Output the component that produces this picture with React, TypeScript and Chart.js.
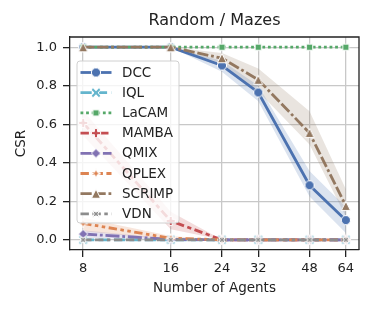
import React, { useEffect, useRef } from "react";
import { Chart, registerables } from "chart.js";

Chart.register(...registerables);

const agents = [8, 16, 24, 32, 48, 64];
const xTicks = [8, 16, 24, 32, 48, 64];
const yTicks = [0, 0.2, 0.4, 0.6, 0.8, 1.0];

const dcc = [1, 1, 0.905, 0.765, 0.283, 0.102];
const dccLow = [1, 1, 0.873, 0.72, 0.225, 0.035];
const dccHigh = [1, 1, 0.93, 0.8, 0.357, 0.17];
const iql = [0, 0, 0, 0, 0, 0];
const lacam = [1, 1, 1, 1, 1, 1];
const mamba = [0.607, 0.098, 0, 0, 0, 0];
const mambaLow = [0.54, 0.055, 0, 0, 0, 0];
const mambaHigh = [0.67, 0.145, 0, 0, 0, 0];
const qmix = [0.03, 0.002, 0, 0, 0, 0];
const qmixLow = [0.01, 0, 0, 0, 0, 0];
const qmixHigh = [0.05, 0.006, 0, 0, 0, 0];
const qplex = [0.085, 0.008, 0, 0, 0, 0];
const qplexLow = [0.045, 0, 0, 0, 0, 0];
const qplexHigh = [0.115, 0.02, 0, 0, 0, 0];
const scrimp = [1, 1, 0.943, 0.831, 0.555, 0.176];
const scrimpLow = [1, 1, 0.915, 0.77, 0.495, 0.12];
const scrimpHigh = [1, 1, 0.97, 0.89, 0.667, 0.262];
const vdn = [0, 0, 0, 0, 0, 0];

const seriesNames = ["DCC", "IQL", "LaCAM", "MAMBA", "QMIX", "QPLEX", "SCRIMP", "VDN"];
const seriesValues = [dcc, iql, lacam, mamba, qmix, qplex, scrimp, vdn];
const colors = ["#4c72b0", "#64b5cd", "#55a868", "#c44e52", "#8172b3", "#dd8452", "#937860", "#8c8c8c"];
const LW = 2.8;
const dashes = [
  [],
  [4, 1.5],
  [1, 1],
  [3, 1.25, 1.5, 1.25],
  [5, 1, 1, 1],
  [3, 1.25, 1.25, 1.25, 1.25, 1.25],
  [4, 1, 4, 1, 1, 1],
  [3, 1.25, 3, 1.25, 1.25, 1.25],
].map((d) => d.map((v) => v * LW));
const shapes = ["circle", "xfill", "square", "plus", "diamond", "star", "triangle", "starx"];
const sizes = [4.6, 4.6, 3.2, 4.6, 4.6, 4.8, 4.6, 4.8];

const bands: { i: number; low: number[]; high: number[] }[] = [
  { i: 0, low: dccLow, high: dccHigh },
  { i: 3, low: mambaLow, high: mambaHigh },
  { i: 4, low: qmixLow, high: qmixHigh },
  { i: 5, low: qplexLow, high: qplexHigh },
  { i: 6, low: scrimpLow, high: scrimpHigh },
];

function hexA(hex: string, a: number) {
  const n = parseInt(hex.slice(1), 16);
  return `rgba(${(n >> 16) & 255},${(n >> 8) & 255},${n & 255},${a})`;
}

function makeMarker(shape: string, color: string, r: number): HTMLCanvasElement {
  const s = Math.ceil(2 * r + 4);
  const c = document.createElement("canvas");
  c.width = s;
  c.height = s;
  const ctx = c.getContext("2d")!;
  ctx.translate(s / 2, s / 2);
  ctx.beginPath();
  const poly = (pts: number[][]) => {
    pts.forEach((p, k) => (k === 0 ? ctx.moveTo(p[0], p[1]) : ctx.lineTo(p[0], p[1])));
    ctx.closePath();
  };
  const plusPts = (a: number, t: number) => [
    [-t, -a], [t, -a], [t, -t], [a, -t], [a, t], [t, t], [t, a], [-t, a], [-t, t], [-a, t], [-a, -t], [-t, -t],
  ];
  const rot = (pts: number[][], ang: number) =>
    pts.map(([x, y]) => [x * Math.cos(ang) - y * Math.sin(ang), x * Math.sin(ang) + y * Math.cos(ang)]);
  const starPts = (ro: number, ri: number) => {
    const pts: number[][] = [];
    for (let k = 0; k < 8; k++) {
      const ang = -Math.PI / 2 + (k * Math.PI) / 4;
      const rr = k % 2 === 0 ? ro : ri;
      pts.push([rr * Math.cos(ang), rr * Math.sin(ang)]);
    }
    return pts;
  };
  if (shape === "circle") ctx.arc(0, 0, r, 0, Math.PI * 2);
  else if (shape === "square") ctx.rect(-r, -r, 2 * r, 2 * r);
  else if (shape === "diamond") poly([[0, -r], [r, 0], [0, r], [-r, 0]]);
  else if (shape === "triangle") poly([[0, -r], [r, r], [-r, r]]);
  else if (shape === "plus") poly(plusPts(r, r * 0.34));
  else if (shape === "xfill") poly(rot(plusPts(r * 1.2, r * 0.3), Math.PI / 4));
  else if (shape === "star") poly(starPts(r, r * 0.38));
  else if (shape === "starx") poly(rot(starPts(r, r * 0.38), Math.PI / 4));
  ctx.fillStyle = color;
  ctx.fill();
  ctx.lineWidth = 1;
  ctx.strokeStyle = "#ffffff";
  ctx.stroke();
  return c;
}

const FONT = "'DejaVu Sans', sans-serif";

export default function App() {
  const ref = useRef<HTMLCanvasElement | null>(null);
  useEffect(() => {
    if (!ref.current) return;
    const markers = seriesNames.map((_, i) => makeMarker(shapes[i], colors[i], sizes[i]));
    const datasets: any[] = seriesNames.map((name, i) => ({
      label: name,
      data: agents.map((a, k) => ({ x: a, y: seriesValues[i][k] })),
      borderColor: colors[i],
      backgroundColor: colors[i],
      borderWidth: LW,
      borderDash: dashes[i],
      pointStyle: markers[i],
      pointRadius: 5,
      fill: false,
      order: 20 - i,
      tension: 0,
    }));
    bands.forEach((b) => {
      const base = datasets.length;
      datasets.push({
        label: "_hi",
        data: agents.map((a, k) => ({ x: a, y: b.high[k] })),
        borderWidth: 0,
        borderColor: "rgba(0,0,0,0)",
        pointRadius: 0,
        fill: base + 1,
        backgroundColor: hexA(colors[b.i], 0.2),
        order: 100,
      });
      datasets.push({
        label: "_lo",
        data: agents.map((a, k) => ({ x: a, y: b.low[k] })),
        borderWidth: 0,
        borderColor: "rgba(0,0,0,0)",
        pointRadius: 0,
        fill: false,
        order: 100,
      });
    });

    const deco = {
      id: "deco",
      afterDraw(chart: any) {
        const { ctx, chartArea: ca } = chart;
        ctx.save();
        ctx.strokeStyle = "#222";
        ctx.lineWidth = 1.3;
        ctx.beginPath();
        ctx.moveTo(ca.left, ca.top);
        ctx.lineTo(ca.right, ca.top);
        ctx.lineTo(ca.right, ca.bottom);
        ctx.stroke();
        ctx.fillStyle = "#222";
        ctx.textAlign = "center";
        ctx.textBaseline = "middle";
        ctx.font = `16px ${FONT}`;
        ctx.fillText("Random / Mazes", (ca.left + ca.right) / 2, 21);
        ctx.font = `13.5px ${FONT}`;
        ctx.fillText("Number of Agents", (ca.left + ca.right) / 2, 288);
        ctx.save();
        ctx.translate(21.5, (ca.top + ca.bottom) / 2);
        ctx.rotate(-Math.PI / 2);
        ctx.fillText("CSR", 0, 0);
        ctx.restore();
        // legend
        const bx = ca.left + 7, by = ca.top + 24, bw = 102, bh = 162, rr = 3;
        ctx.beginPath();
        ctx.moveTo(bx + rr, by);
        ctx.arcTo(bx + bw, by, bx + bw, by + bh, rr);
        ctx.arcTo(bx + bw, by + bh, bx, by + bh, rr);
        ctx.arcTo(bx, by + bh, bx, by, rr);
        ctx.arcTo(bx, by, bx + bw, by, rr);
        ctx.closePath();
        ctx.fillStyle = "rgba(255,255,255,0.8)";
        ctx.fill();
        ctx.strokeStyle = "#d0d0d0";
        ctx.lineWidth = 1;
        ctx.stroke();
        seriesNames.forEach((name, i) => {
          const cy = by + 11.5 + i * 20.2;
          const x0 = bx + 3.5, x1 = bx + 34.5;
          ctx.beginPath();
          ctx.setLineDash(dashes[i]);
          ctx.strokeStyle = colors[i];
          ctx.lineWidth = LW;
          ctx.moveTo(x0, cy);
          ctx.lineTo(x1, cy);
          ctx.stroke();
          ctx.setLineDash([]);
          const m = markers[i];
          ctx.drawImage(m, (x0 + x1) / 2 - m.width / 2, cy - m.height / 2);
          ctx.fillStyle = "#222";
          ctx.textAlign = "left";
          ctx.font = `13.5px ${FONT}`;
          ctx.fillText(name, bx + 45, cy + 0.5);
        });
        ctx.restore();
      },
    };

    const gridColor = "#c8c8c8";
    const chart = new Chart(ref.current, {
      type: "line",
      data: { datasets },
      options: {
        animation: false,
        responsive: false,
        layout: { padding: { left: 0, top: 37, right: 15, bottom: 0 } },
        plugins: { legend: { display: false }, title: { display: false }, tooltip: { enabled: false } },
        scales: {
          x: {
            type: "logarithmic",
            min: Math.pow(2, 2.85),
            max: Math.pow(2, 6.15),
            afterBuildTicks: (s: any) => {
              s.ticks = xTicks.map((v) => ({ value: v }));
            },
            afterFit: (s: any) => {
              s.height = 62;
            },
            ticks: {
              autoSkip: false,
              maxRotation: 0,
              padding: 4,
              color: "#222",
              font: { size: 13, family: FONT },
              callback: (v: any) => String(v),
            },
            grid: { color: gridColor, lineWidth: 1.3, tickColor: "#222", tickLength: 7, tickWidth: 1.3 },
            border: { display: true, color: "#222", width: 1.3 },
          },
          y: {
            type: "linear",
            min: -0.053,
            max: 1.053,
            afterBuildTicks: (s: any) => {
              s.ticks = yTicks.map((v) => ({ value: v }));
            },
            afterFit: (s: any) => {
              s.width = 70;
            },
            ticks: {
              padding: 6,
              color: "#222",
              font: { size: 13, family: FONT },
              callback: (v: any) => Number(v).toFixed(1),
            },
            grid: { color: gridColor, lineWidth: 1.3, tickColor: "#222", tickLength: 7, tickWidth: 1.3 },
            border: { display: true, color: "#222", width: 1.3 },
          },
        },
      },
      plugins: [deco],
    } as any);
    return () => chart.destroy();
  }, []);
  return (
    <div style={{ position: "fixed", left: 0, top: 0, width: 374, height: 312, background: "#fff" }}>
      <canvas ref={ref} width={374} height={312} style={{ display: "block" }} />
    </div>
  );
}
